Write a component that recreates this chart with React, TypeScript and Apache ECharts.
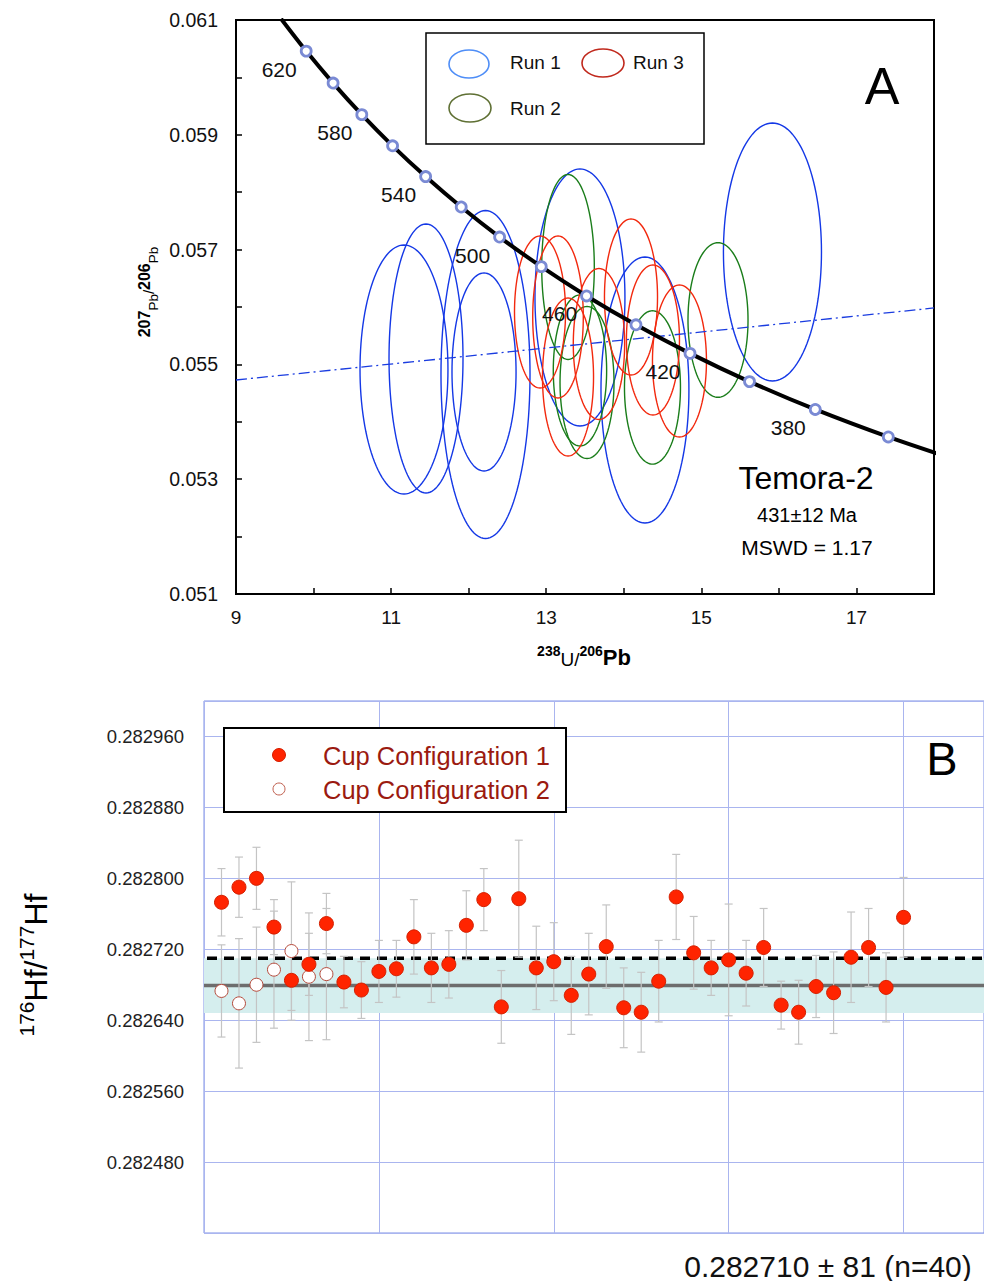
import React, { useEffect, useRef } from "react";
import * as echarts from "echarts";

const FONT = '"Liberation Sans", Arial, Helvetica, sans-serif';

// ---------- Panel A : Tera-Wasserburg concordia ----------
const concordiaAges = [640, 620, 600, 580, 560, 540, 520, 500, 480, 460, 440, 420, 400, 380, 360, 345];
const concordiaX = [9.581, 9.905, 10.252, 10.622, 11.019, 11.445, 11.904, 12.399, 12.936, 13.52, 14.157, 14.854, 15.621, 16.469, 17.411, 18.19];
const concordiaY = [0.061021, 0.060458, 0.059901, 0.059351, 0.058808, 0.058272, 0.057742, 0.057219, 0.056703, 0.056193, 0.05569, 0.055192, 0.0547, 0.054215, 0.053736, 0.053381];
const markerAges = [620, 600, 580, 560, 540, 520, 500, 480, 460, 440, 420, 400, 380, 360];
const labelledAges = [620, 580, 540, 500, 460, 420, 380];
const discordiaX = [9, 18];
const discordiaY = [0.054728, 0.055983];

// ellipses: [centre 238U/206Pb, centre 207Pb/206Pb, half-width, half-height]
const run1Ellipses = [
  [11.166, 0.054911, 0.567, 0.002169],
  [11.45, 0.055103, 0.477, 0.002343],
  [12.198, 0.054868, 0.413, 0.001725],
  [12.217, 0.054824, 0.574, 0.002857],
  [13.435, 0.056166, 0.58, 0.002239],
  [14.273, 0.054554, 0.567, 0.002317],
  [15.917, 0.056958, 0.632, 0.002247],
];
const run2Ellipses = [
  [13.281, 0.056697, 0.339, 0.001611],
  [13.435, 0.054894, 0.344, 0.001315],
  [13.526, 0.054685, 0.348, 0.001324],
  [14.37, 0.054598, 0.361, 0.001336],
  [15.215, 0.055774, 0.387, 0.001347],
];
const run3Ellipses = [
  [12.92, 0.055913, 0.329, 0.001324],
  [13.152, 0.055826, 0.326, 0.001411],
  [13.281, 0.05478, 0.329, 0.001376],
  [13.68, 0.055355, 0.331, 0.001315],
  [14.093, 0.056174, 0.342, 0.001359],
  [14.376, 0.055425, 0.342, 0.001307],
  [14.718, 0.055059, 0.348, 0.001324],
];

// ---------- Panel B : 176Hf/177Hf ----------
const cup1Index = [1, 2, 3, 4, 5, 6, 7, 8, 9, 10, 11, 12, 13, 14, 15, 16, 17, 18, 19, 20, 21, 22, 23, 24, 25, 26, 27, 28, 29, 30, 31, 32, 33, 34, 35, 36, 37, 38, 39, 40];
const cup1Values = [
  0.282773, 0.28279, 0.2828, 0.282745, 0.282685, 0.282703, 0.282749, 0.282683, 0.282674, 0.282695,
  0.282698, 0.282734, 0.282699, 0.282703, 0.282747, 0.282776, 0.282655, 0.282777, 0.282699, 0.282706,
  0.282668, 0.282692, 0.282723, 0.282654, 0.282649, 0.282684, 0.282779, 0.282716, 0.282699, 0.282708,
  0.282693, 0.282722, 0.282657, 0.282649, 0.282678, 0.282671, 0.282711, 0.282722, 0.282677, 0.282756,
];
const cup1Errors = [
  0.000038, 0.000034, 0.000035, 0.000031, 0.000034, 0.000035, 0.000034, 0.000029, 0.000032, 0.000035,
  0.000032, 0.000042, 0.000039, 0.000038, 0.000039, 0.000035, 0.000041, 0.000066, 0.000047, 0.000044,
  0.000044, 0.000046, 0.000047, 0.000045, 0.000045, 0.000046, 0.000048, 0.000041, 0.000031, 0.000063,
  0.000037, 0.000044, 0.000027, 0.000036, 0.000035, 0.000046, 0.000051, 0.000044, 0.000039, 0.000045,
];
const cup2Index = [1, 2, 3, 4, 5, 6, 7];
const cup2Values = [0.282673, 0.282659, 0.28268, 0.282697, 0.282718, 0.282689, 0.282692];
const cup2Errors = [0.000052, 0.000073, 0.000065, 0.000066, 0.000078, 0.000072, 0.000074];
const referenceValue = 0.282679;
const referenceHalfWidth = 0.000031;
const weightedMean = 0.28271;

const ellipseRender = (color: string) => (params: any, api: any) => {
  const cx = api.value(0);
  const cy = api.value(1);
  const rx = api.value(2);
  const ry = api.value(3);
  const pts: number[][] = [];
  const n = 120;
  for (let k = 0; k <= n; k++) {
    const t = (k / n) * Math.PI * 2;
    pts.push(api.coord([cx + rx * Math.cos(t), cy + ry * Math.sin(t)]));
  }
  return {
    type: "polyline",
    shape: { points: pts },
    style: { fill: "none", stroke: color, lineWidth: 1.4 },
  };
};

const errorRender = (color: string) => (params: any, api: any) => {
  const x = api.value(0);
  const lo = api.value(1);
  const hi = api.value(2);
  const p1 = api.coord([x, hi]);
  const p2 = api.coord([x, lo]);
  const cap = 4;
  const st = { stroke: color, lineWidth: 1.2 };
  return {
    type: "group",
    children: [
      { type: "line", shape: { x1: p1[0], y1: p1[1], x2: p2[0], y2: p2[1] }, style: st },
      { type: "line", shape: { x1: p1[0] - cap, y1: p1[1], x2: p1[0] + cap, y2: p1[1] }, style: st },
      { type: "line", shape: { x1: p2[0] - cap, y1: p2[1], x2: p2[0] + cap, y2: p2[1] }, style: st },
    ],
  };
};

const bandRender = (params: any, api: any) => {
  const ref = api.value(0);
  const hw = api.value(1);
  const mean = api.value(2);
  const cs = params.coordSys;
  const yTop = api.coord([0, ref + hw])[1];
  const yBot = api.coord([0, ref - hw])[1];
  const yRef = api.coord([0, ref])[1];
  const yMean = api.coord([0, mean])[1];
  return {
    type: "group",
    children: [
      { type: "rect", shape: { x: cs.x, y: yTop, width: cs.width, height: yBot - yTop }, style: { fill: "#d5eeee" } },
      { type: "line", shape: { x1: cs.x, y1: yRef, x2: cs.x + cs.width, y2: yRef }, style: { stroke: "#6d6d6d", lineWidth: 3.5 } },
      {
        type: "line",
        shape: { x1: cs.x + 3, y1: yMean, x2: cs.x + cs.width, y2: yMean },
        style: { stroke: "#000", lineWidth: 3.5, lineDash: [10, 7] },
      },
    ],
  };
};

export default function App() {
  const ref = useRef<HTMLDivElement>(null);

  useEffect(() => {
    if (!ref.current) return;
    const chart = echarts.init(ref.current, null, { renderer: "svg" });

    const concordiaLine = concordiaX.map((x, i) => [x, concordiaY[i]]);
    const markers = markerAges.map((age) => {
      const i = concordiaAges.indexOf(age);
      const show = labelledAges.includes(age);
      return {
        value: [concordiaX[i], concordiaY[i]],
        label: { show, formatter: String(age) },
      };
    });

    const cup1Points = cup1Index.map((x, i) => [x, cup1Values[i]]);
    const cup2Points = cup2Index.map((x, i) => [x, cup2Values[i]]);
    const cup1Bars = cup1Index.map((x, i) => [x, cup1Values[i] - cup1Errors[i], cup1Values[i] + cup1Errors[i]]);
    const cup2Bars = cup2Index.map((x, i) => [x, cup2Values[i] - cup2Errors[i], cup2Values[i] + cup2Errors[i]]);

    const option: any = {
      animation: false,
      backgroundColor: "#fff",
      textStyle: { fontFamily: FONT },
      grid: [
        { left: 236, top: 20, width: 698, height: 574, show: true, borderColor: "#000", borderWidth: 2, backgroundColor: "transparent" },
        { left: 204, top: 701, width: 782, height: 532, show: true, borderColor: "#7d90e6", borderWidth: 1, backgroundColor: "transparent" },
      ],
      xAxis: [
        {
          gridIndex: 0,
          type: "value",
          min: 9,
          max: 18,
          interval: 1,
          axisLine: { show: true, lineStyle: { color: "#000", width: 2 } },
          axisTick: { show: true, inside: true, length: 6, lineStyle: { color: "#000", width: 1.5 } },
          axisLabel: {
            formatter: (v: number) => (Math.round(v) % 2 === 1 ? String(Math.round(v)) : ""),
            fontSize: 19,
            color: "#111",
            margin: 14,
            fontFamily: FONT,
          },
          splitLine: { show: false },
        },
        {
          gridIndex: 1,
          type: "value",
          min: 0,
          max: 44.6,
          interval: 10,
          axisLine: { show: false },
          axisTick: { show: false },
          axisLabel: { show: false },
          splitLine: { show: true, lineStyle: { color: "#aab5ef", width: 1 } },
        },
      ],
      yAxis: [
        {
          gridIndex: 0,
          type: "value",
          min: 0.051,
          max: 0.061,
          interval: 0.001,
          axisLine: { show: true, lineStyle: { color: "#000", width: 2 } },
          axisTick: { show: true, inside: true, length: 6, lineStyle: { color: "#000", width: 1.5 } },
          axisLabel: {
            formatter: (v: number) => (Math.round(v * 1000) % 2 === 1 ? v.toFixed(3) : ""),
            fontSize: 19.5,
            color: "#111",
            margin: 18,
            fontFamily: FONT,
          },
          splitLine: { show: false },
        },
        {
          gridIndex: 1,
          type: "value",
          min: 0.2824,
          max: 0.283,
          interval: 0.00008,
          axisLine: { show: false },
          axisTick: { show: false },
          axisLabel: {
            formatter: (v: number) => (v < 0.28245 || v > 0.28297 ? "" : v.toFixed(6)),
            fontSize: 18.5,
            color: "#222",
            margin: 20,
            fontFamily: FONT,
          },
          splitLine: { show: true, lineStyle: { color: "#aab5ef", width: 1 } },
        },
      ],
      series: [
        // Panel A
        {
          type: "custom",
          xAxisIndex: 0,
          yAxisIndex: 0,
          renderItem: ellipseRender("#1438e6"),
          data: run1Ellipses,
          encode: { x: 0, y: 1 },
          z: 2,
        },
        {
          type: "custom",
          xAxisIndex: 0,
          yAxisIndex: 0,
          renderItem: ellipseRender("#1a7d1a"),
          data: run2Ellipses,
          encode: { x: 0, y: 1 },
          z: 2,
        },
        {
          type: "custom",
          xAxisIndex: 0,
          yAxisIndex: 0,
          renderItem: ellipseRender("#f2290e"),
          data: run3Ellipses,
          encode: { x: 0, y: 1 },
          z: 2,
        },
        {
          type: "line",
          xAxisIndex: 0,
          yAxisIndex: 0,
          data: discordiaX.map((x, i) => [x, discordiaY[i]]),
          showSymbol: false,
          lineStyle: { color: "#1a3ce0", width: 1.3, type: [11, 4, 2, 4] },
          z: 3,
        },
        {
          type: "line",
          xAxisIndex: 0,
          yAxisIndex: 0,
          data: concordiaLine,
          smooth: 0.35,
          showSymbol: false,
          clip: true,
          lineStyle: { color: "#000", width: 4 },
          z: 4,
        },
        {
          type: "scatter",
          xAxisIndex: 0,
          yAxisIndex: 0,
          data: markers,
          symbol: "circle",
          symbolSize: 10,
          itemStyle: { color: "#ffffff", borderColor: "#7a8ad4", borderWidth: 2.8, opacity: 1 },
          label: {
            position: "inside",
            offset: [-27, 18],
            fontSize: 21,
            color: "#111",
            fontFamily: FONT,
          },
          z: 5,
        },
        // Panel B
        {
          type: "custom",
          xAxisIndex: 1,
          yAxisIndex: 1,
          renderItem: bandRender,
          data: [[referenceValue, referenceHalfWidth, weightedMean]],
          encode: { y: 0 },
          z: 1,
        },
        {
          type: "custom",
          xAxisIndex: 1,
          yAxisIndex: 1,
          renderItem: errorRender("#c4c4c4"),
          data: cup1Bars,
          encode: { x: 0, y: [1, 2] },
          z: 2,
        },
        {
          type: "custom",
          xAxisIndex: 1,
          yAxisIndex: 1,
          renderItem: errorRender("#c4c4c4"),
          data: cup2Bars,
          encode: { x: 0, y: [1, 2] },
          z: 2,
        },
        {
          type: "scatter",
          xAxisIndex: 1,
          yAxisIndex: 1,
          data: cup1Points,
          symbolSize: 14,
          itemStyle: { color: "#ff2400", borderColor: "#d42000", borderWidth: 1, opacity: 1 },
          z: 4,
        },
        {
          type: "scatter",
          xAxisIndex: 1,
          yAxisIndex: 1,
          data: cup2Points,
          symbolSize: 13,
          itemStyle: { color: "#ffffff", borderColor: "#b5493a", borderWidth: 1, opacity: 1 },
          z: 3,
        },
      ],
      graphic: {
        elements: [
          // Panel A legend
          { type: "rect", shape: { x: 426, y: 33, width: 278, height: 111 }, style: { fill: "#fff", stroke: "#000", lineWidth: 1.5 }, z: 10 },
          { type: "ellipse", shape: { cx: 469, cy: 64, rx: 20, ry: 14 }, style: { fill: "none", stroke: "#4f8ef7", lineWidth: 1.6 }, z: 11 },
          { type: "ellipse", shape: { cx: 603, cy: 63, rx: 21, ry: 14 }, style: { fill: "none", stroke: "#c0281c", lineWidth: 1.6 }, z: 11 },
          { type: "ellipse", shape: { cx: 470, cy: 108, rx: 21, ry: 14 }, style: { fill: "none", stroke: "#5f7034", lineWidth: 1.6 }, z: 11 },
          { type: "text", x: 510, y: 62, style: { text: "Run 1", fontSize: 19, fontFamily: FONT, fill: "#111", textAlign: "left", textVerticalAlign: "middle" }, z: 11 },
          { type: "text", x: 633, y: 62, style: { text: "Run 3", fontSize: 19, fontFamily: FONT, fill: "#111", textAlign: "left", textVerticalAlign: "middle" }, z: 11 },
          { type: "text", x: 510, y: 108, style: { text: "Run 2", fontSize: 19, fontFamily: FONT, fill: "#111", textAlign: "left", textVerticalAlign: "middle" }, z: 11 },
          // Panel A annotations
          { type: "text", x: 882, y: 86, style: { text: "A", fontSize: 52, fontFamily: FONT, fill: "#000", textAlign: "center", textVerticalAlign: "middle" }, z: 11 },
          { type: "text", x: 806, y: 478, style: { text: "Temora-2", fontSize: 32, fontFamily: FONT, fill: "#000", textAlign: "center", textVerticalAlign: "middle" }, z: 11 },
          { type: "text", x: 807, y: 515, style: { text: "431±12 Ma", fontSize: 20, fontFamily: FONT, fill: "#000", textAlign: "center", textVerticalAlign: "middle" }, z: 11 },
          { type: "text", x: 807, y: 547, style: { text: "MSWD = 1.17", fontSize: 21, fontFamily: FONT, fill: "#000", textAlign: "center", textVerticalAlign: "middle" }, z: 11 },
          // Panel A axis names
          {
            type: "text",
            x: 584,
            y: 656,
            style: {
              text: "{n|238}{u|U/}{n|206}{p|Pb}",
              textAlign: "center",
              textVerticalAlign: "middle",
              fill: "#000",
              rich: {
                n: { fontSize: 14, fontWeight: "bold", fontFamily: FONT, verticalAlign: "top", lineHeight: 25, fill: "#000" },
                u: { fontSize: 19, fontFamily: FONT, verticalAlign: "bottom", lineHeight: 25, fill: "#000" },
                p: { fontSize: 22, fontWeight: "bold", fontFamily: FONT, verticalAlign: "bottom", lineHeight: 25, fill: "#000" },
              },
            },
            z: 11,
          },
          {
            type: "text",
            x: 148,
            y: 292,
            rotation: Math.PI / 2,
            style: {
              text: "{n|207}{s|Pb}{u|/}{n|206}{s|Pb}",
              textAlign: "center",
              textVerticalAlign: "middle",
              fill: "#000",
              rich: {
                n: { fontSize: 16, fontWeight: "bold", fontFamily: FONT, verticalAlign: "top", lineHeight: 24, fill: "#000" },
                s: { fontSize: 13.5, fontFamily: FONT, verticalAlign: "bottom", lineHeight: 24, fill: "#000" },
                u: { fontSize: 15, fontFamily: FONT, verticalAlign: "middle", lineHeight: 24, fill: "#000" },
              },
            },
            z: 11,
          },
          // Panel B legend
          { type: "rect", shape: { x: 224, y: 728, width: 342, height: 84 }, style: { fill: "#fff", stroke: "#000", lineWidth: 2 }, z: 10 },
          { type: "circle", shape: { cx: 279, cy: 755, r: 6.5 }, style: { fill: "#ff2400", stroke: "#d42000", lineWidth: 1 }, z: 11 },
          { type: "circle", shape: { cx: 279, cy: 789, r: 6 }, style: { fill: "#fff", stroke: "#c0604f", lineWidth: 1 }, z: 11 },
          { type: "text", x: 323, y: 756, style: { text: "Cup Configuration 1", fontSize: 25.5, fontFamily: FONT, fill: "#9b1a10", textAlign: "left", textVerticalAlign: "middle" }, z: 11 },
          { type: "text", x: 323, y: 790, style: { text: "Cup Configuration 2", fontSize: 25.5, fontFamily: FONT, fill: "#9b1a10", textAlign: "left", textVerticalAlign: "middle" }, z: 11 },
          { type: "text", x: 942, y: 758, style: { text: "B", fontSize: 47, fontFamily: FONT, fill: "#000", textAlign: "center", textVerticalAlign: "middle" }, z: 11 },
          // Panel B axis name
          {
            type: "text",
            x: 34,
            y: 965,
            rotation: Math.PI / 2,
            style: {
              text: "{s|176}{h|Hf/}{s|177}{h|Hf}",
              textAlign: "center",
              textVerticalAlign: "middle",
              fill: "#000",
              rich: {
                s: { fontSize: 21, fontFamily: FONT, verticalAlign: "top", lineHeight: 36, fill: "#000" },
                h: { fontSize: 32, fontFamily: FONT, verticalAlign: "bottom", lineHeight: 36, fill: "#000" },
              },
            },
            z: 11,
          },
          { type: "text", x: 828, y: 1266, style: { text: "0.282710 ± 81 (n=40)", fontSize: 30, fontFamily: FONT, fill: "#111", textAlign: "center", textVerticalAlign: "middle" }, z: 11 },
        ],
      },
    };

    chart.setOption(option);
    return () => chart.dispose();
  }, []);

  return (
    <div
      ref={ref}
      style={{ position: "absolute", left: 0, top: 0, width: 984, height: 1281, background: "#fff" }}
    />
  );
}
